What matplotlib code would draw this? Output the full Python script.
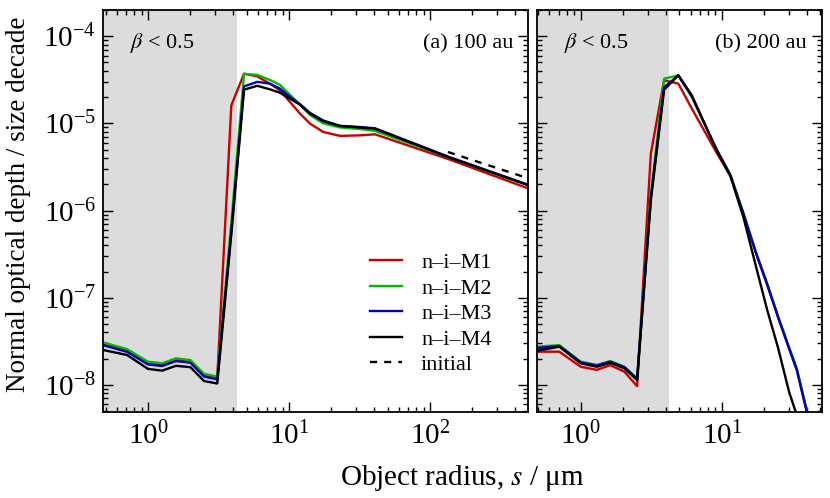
import numpy as np
import matplotlib
matplotlib.use("Agg")
import matplotlib.pyplot as plt
from matplotlib.ticker import LogLocator, NullFormatter

plt.rcParams["font.family"] = ["Liberation Serif", "DejaVu Serif"]
plt.rcParams["mathtext.fontset"] = "stix"

# --- data ---
# (a) 100 au
s_a = [0.48, 0.71, 1.0, 1.26, 1.58, 2.0, 2.5, 3.1, 3.9, 4.8, 5.96, 7.33, 8.63,
       10.2, 12.0, 14.1, 17.5, 23.0, 31.9, 40.7, 135, 500]
tau_a_m1 = [2.99e-8, 2.5e-8, 1.79e-8, 1.72e-8, 1.96e-8, 1.87e-8, 1.3e-8, 1.21e-8,
            1.61e-5, 3.72e-5, 3.47e-5, 2.85e-5, 2.4e-5, 1.75e-5, 1.29e-5, 9.95e-6,
            7.98e-6, 7.2e-6, 7.3e-6, 7.5e-6, 3.9e-6, 1.79e-6]
tau_a_m2 = [3.08e-8, 2.58e-8, 1.85e-8, 1.77e-8, 2.02e-8, 1.93e-8, 1.34e-8, 1.25e-8,
            7.3e-7, 3.7e-5, 3.6e-5, 3.15e-5, 2.77e-5, 2.12e-5, 1.63e-5, 1.25e-5,
            1.0e-5, 9.0e-6, 8.63e-6, 8.2e-6, 4.1e-6, 1.95e-6]
tau_a_m3 = [2.86e-8, 2.4e-8, 1.72e-8, 1.65e-8, 1.88e-8, 1.8e-8, 1.25e-8, 1.16e-8,
            5.8e-7, 2.66e-5, 3.0e-5, 2.86e-5, 2.51e-5, 2.0e-5, 1.66e-5, 1.32e-5,
            1.08e-5, 9.4e-6, 9.1e-6, 8.8e-6, 4.15e-6, 1.97e-6]
tau_a_m4 = [2.52e-8, 2.21e-8, 1.53e-8, 1.46e-8, 1.66e-8, 1.6e-8, 1.11e-8, 1.04e-8,
            5.4e-7, 2.44e-5, 2.7e-5, 2.46e-5, 2.25e-5, 1.92e-5, 1.63e-5, 1.29e-5,
            1.06e-5, 9.33e-6, 8.98e-6, 8.7e-6, 4.1e-6, 1.95e-6]
s_init = [134, 500]
tau_init = [4.7e-6, 2.34e-6]

# (b) 200 au
s_b = [0.49, 0.705, 1.0, 1.3, 1.62, 2.04, 2.51, 3.14, 3.9, 4.92, 6.13, 9.2, 11.5,
       14.2, 17.5, 21, 25, 30, 34, 40, 45]
tau_b_m1 = [2.41e-8, 2.41e-8, 1.62e-8, 1.49e-8, 1.69e-8, 1.42e-8, 9.7e-9, 4.5e-6,
            3.12e-5, 2.86e-5, 1.48e-5, 4.6e-6, 2.5e-6, 9.2e-7, 3.2e-7, 1.4e-7,
            6.0e-8, 2.6e-8, 1.48e-8, 4.9e-9, 2.0e-9]
tau_b_m2 = [2.75e-8, 2.87e-8, 1.85e-8, 1.7e-8, 1.88e-8, 1.62e-8, 1.19e-8, 1.5e-6,
            3.26e-5, 3.56e-5, 2.0e-5, 5.0e-6, 2.6e-6, 9.5e-7, 3.3e-7, 1.45e-7,
            6.2e-8, 2.7e-8, 1.55e-8, 5.2e-9, 2.2e-9]
tau_b_m3 = [2.65e-8, 2.8e-8, 1.82e-8, 1.67e-8, 1.85e-8, 1.6e-8, 1.17e-8, 1.4e-6,
            2.6e-5, 3.56e-5, 2.05e-5, 5.0e-6, 2.55e-6, 9.3e-7, 3.25e-7, 1.42e-7,
            6.1e-8, 2.64e-8, 1.5e-8, 5.0e-9, 2.1e-9]
tau_b_m4 = [2.47e-8, 2.75e-8, 1.77e-8, 1.62e-8, 1.8e-8, 1.55e-8, 1.14e-8, 1.3e-6,
            2.44e-5, 3.56e-5, 2.1e-5, 4.9e-6, 2.5e-6, 8.5e-7, 2.26e-7, 7.2e-8,
            2.7e-8, 8.3e-9, 4.5e-9, 2.0e-9, 1.0e-9]

labels = ["n\u2013i\u2013M1", "n\u2013i\u2013M2", "n\u2013i\u2013M3", "n\u2013i\u2013M4"]
colors = ["#c80000", "#00bb00", "#0000c0", "black"]
s_blow = 4.25  # blow-out size, beta = 0.5

fig = plt.figure(figsize=(8.3, 4.98), dpi=100)
ax_a = fig.add_axes([103 / 830, 86 / 498, 425 / 830, 402 / 498])
ax_b = fig.add_axes([537 / 830, 86 / 498, 285 / 830, 402 / 498])

panels = [
    (ax_a, s_a, [tau_a_m1, tau_a_m2, tau_a_m3, tau_a_m4], (0.48, 495), "(a) 100 au", 425),
    (ax_b, s_b, [tau_b_m1, tau_b_m2, tau_b_m3, tau_b_m4], (0.49, 51.3), "(b) 200 au", 285),
]

for ax, s, taus, xlim, tag, wpx in panels:
    ax.axvspan(xlim[0], s_blow, color="#dcdcdc", lw=0, zorder=0)
    for tau, col, lab in zip(taus, colors, labels):
        ax.plot(s, tau, color=col, lw=1.7, label=lab, zorder=2)
    ax.set_xscale("log")
    ax.set_yscale("log")
    ax.set_xlim(*xlim)
    ax.set_ylim(4.9e-9, 2e-4)
    ax.yaxis.set_major_locator(LogLocator(base=10, numticks=20))
    ax.yaxis.set_minor_locator(LogLocator(base=10, subs=np.arange(2, 10), numticks=20))
    ax.yaxis.set_minor_formatter(NullFormatter())
    ax.xaxis.set_minor_formatter(NullFormatter())
    ax.tick_params(which="both", direction="in", top=True, right=True,
                   labelsize=21, width=1.0)
    ax.tick_params(which="major", length=7)
    ax.tick_params(which="minor", length=3.5)
    ax.tick_params(axis="x", pad=7)
    ax.tick_params(axis="y", pad=5)
    for sp in ax.spines.values():
        sp.set_linewidth(1.3)
    ax.text(27 / wpx, 0.917, r"$\beta$ < 0.5", transform=ax.transAxes,
            fontsize=16, ha="left", va="center")
    ax.text(1 - 15 / wpx, 0.917, tag, transform=ax.transAxes, fontsize=16,
            ha="right", va="center")

ax_a.plot(s_init, tau_init, color="black", lw=1.7, ls=(0, (3, 3)),
          label="initial", zorder=2)
ax_b.tick_params(labelleft=False)

ax_a.legend(loc="lower right", frameon=False, fontsize=16, handlelength=1.45,
            handletextpad=0.85, labelspacing=0.22, borderaxespad=0.0,
            bbox_to_anchor=(0.935, 0.07))

fig.text(18.5 / 830, 1 - 204 / 498, "Normal optical depth / size decade",
         rotation=90, ha="center", va="center", fontsize=19.5)
fig.text(462 / 830, 20 / 498, r"Object radius, $s$ / μm", ha="center",
         va="center", fontsize=21)

fig.savefig("out.png", dpi=100)
